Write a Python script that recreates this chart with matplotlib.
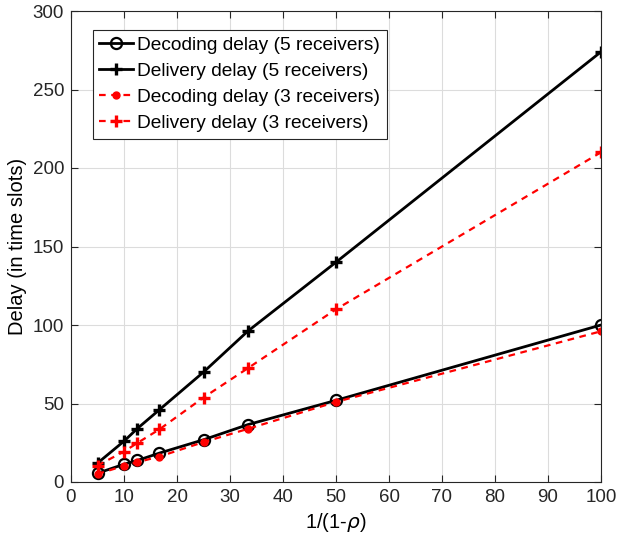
import matplotlib
matplotlib.use("Agg")
import matplotlib.pyplot as plt

plt.rcParams['font.family'] = ['Liberation Sans', 'DejaVu Sans']

x = [5, 10, 12.5, 50/3, 25, 100/3, 50, 100]
dec5 = [5.6, 11.3, 13.7, 18.4, 26.9, 36.5, 52, 100]
del5 = [12, 26, 34, 46, 70, 96, 140, 274]
dec3 = [5.1, 10.3, 12.6, 16.2, 25.4, 33.8, 51, 96]
del3 = [10.5, 19.4, 24.8, 33.5, 53.8, 72.4, 110, 210]

fig = plt.figure(figsize=(6.18, 5.41), dpi=100)
ax = fig.add_axes([71/618, 59/541, 530/618, 471/541])

ax.plot(x, dec5, color='black', lw=2, marker='o', ms=8, mfc='none', mew=1.6,
        label='Decoding delay (5 receivers)')
ax.plot(x, del5, color='black', lw=2, marker='+', ms=9, mew=2.4,
        label='Delivery delay (5 receivers)')
ax.plot(x, dec3, color='red', lw=1.6, ls=(0, (3, 2.5)), marker='o', ms=5, mfc='red', mec='red',
        label='Decoding delay (3 receivers)')
ax.plot(x, del3, color='red', lw=1.6, ls=(0, (3, 2.5)), marker='+', ms=9, mew=2.4,
        label='Delivery delay (3 receivers)')

ax.set_xlim(0, 100)
ax.set_ylim(0, 300)
ax.set_xticks(range(0, 101, 10))
ax.set_yticks(range(0, 301, 50))
ax.grid(True, color='#dcdcdc', lw=0.8)
ax.set_axisbelow(True)
ax.tick_params(direction='in', labelsize=13.5, length=5, top=True, right=True, colors='#262626', pad=5)
for s in ax.spines.values():
    s.set_color('#262626')
ax.set_xlabel('1/(1-$\\rho$)', fontsize=14.5)
ax.set_ylabel('Delay (in time slots)', fontsize=14.5)

leg = ax.legend(loc='upper left', bbox_to_anchor=(0.041, 0.96), fontsize=13.8, fancybox=False,
                framealpha=1, edgecolor='#262626', handlelength=1.75, handletextpad=0.2,
                borderpad=0.35, labelspacing=0.45, borderaxespad=0)
leg.get_frame().set_linewidth(0.8)

fig.savefig('out.png', dpi=100)
